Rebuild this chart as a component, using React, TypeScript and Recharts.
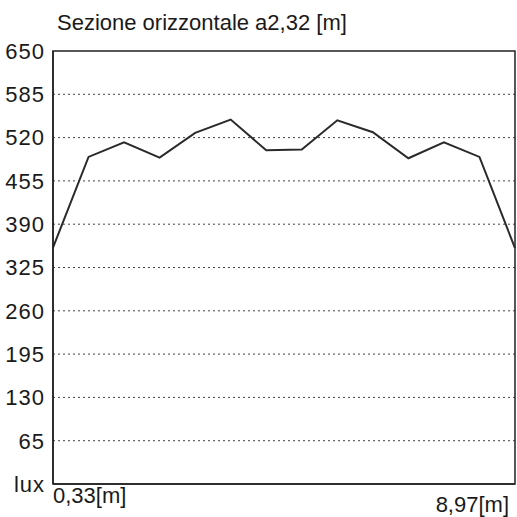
import React from 'react';
import {
  LineChart,
  Line,
  XAxis,
  YAxis,
  CartesianGrid,
  ReferenceArea,
} from 'recharts';

// illuminance along the horizontal section, lux
const luxValues = [355, 491, 513, 490, 527, 547, 501, 502, 546, 528, 489, 513, 491, 354];
const yTicks = [0, 65, 130, 195, 260, 325, 390, 455, 520, 585, 650];
const xStartLabel = '0,33[m]';
const xEndLabel = '8,97[m]';
const title = 'Sezione orizzontale a2,32 [m]';

const data = luxValues.map((lux, i) => ({ idx: i, lux }));
const lastIdx = luxValues.length - 1;

const FONT = '"Liberation Sans", Arial, sans-serif';

const XTick = ({ x, y, payload }: any) => {
  const isFirst = payload.value === 0;
  return (
    <text
      x={x}
      y={y + (isFirst ? 11 : 20)}
      textAnchor={isFirst ? 'start' : 'end'}
      fill="#1a1a1a"
      fontSize={22}
      fontFamily={FONT}
    >
      {isFirst ? xStartLabel : xEndLabel}
    </text>
  );
};

export default function App() {
  return (
    <div style={{ position: 'absolute', left: 0, top: 0, width: 517, height: 517, background: '#fff' }}>
      <div
        style={{
          position: 'absolute',
          left: 57,
          top: 12,
          fontFamily: FONT,
          fontSize: 22,
          lineHeight: '22px',
          color: '#1a1a1a',
          whiteSpace: 'nowrap',
        }}
      >
        {title}
      </div>
      <LineChart
        width={517}
        height={517}
        data={data}
        margin={{ top: 51, right: 2, left: 0, bottom: 0 }}
      >
        <CartesianGrid
          horizontal
          vertical={false}
          stroke="#444"
          strokeDasharray="2 3"
          horizontalValues={[65, 130, 195, 260, 325, 390, 455, 520, 585]}
        />
        <XAxis
          dataKey="idx"
          type="number"
          domain={[0, lastIdx]}
          ticks={[0, lastIdx]}
          tick={<XTick />}
          tickLine={false}
          axisLine={{ stroke: '#222', strokeWidth: 1.5 }}
          height={33}
        />
        <YAxis
          type="number"
          domain={[0, 650]}
          ticks={yTicks}
          width={53}
          tickLine={false}
          axisLine={{ stroke: '#222', strokeWidth: 1.5 }}
          tick={{ fill: '#1a1a1a', fontSize: 22, fontFamily: FONT, letterSpacing: 1 }}
          tickFormatter={(v: number) => (v === 0 ? 'lux' : String(v))}
          interval={0}
        />
        <ReferenceArea x1={0} x2={lastIdx} y1={0} y2={650} fill="none" stroke="#222" strokeWidth={1.5} />
        <Line
          type="linear"
          dataKey="lux"
          stroke="#2a2a2a"
          strokeWidth={2}
          dot={false}
          isAnimationActive={false}
        />
      </LineChart>
    </div>
  );
}
